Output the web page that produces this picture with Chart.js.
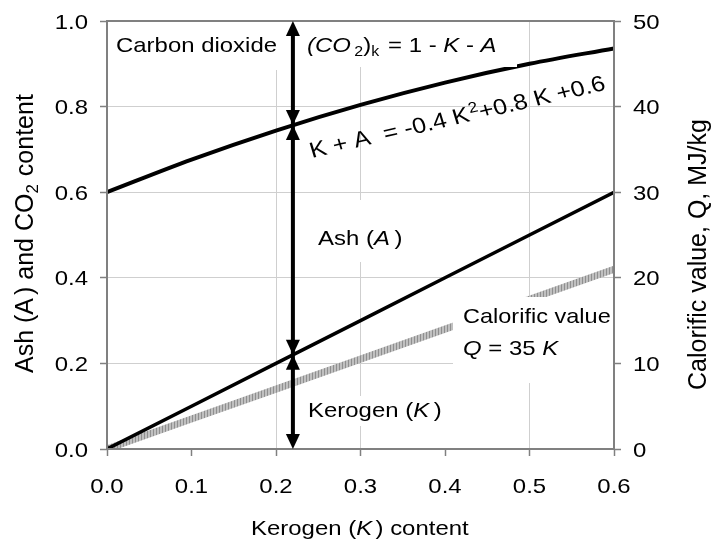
<!DOCTYPE html>
<html>
<head>
<meta charset="utf-8">
<script src="https://cdn.jsdelivr.net/npm/chart.js@4.4.1/dist/chart.umd.min.js"></script>
<style>
  body { margin: 0; background: #fff; }
  canvas { display: block; }
</style>
</head>
<body>
<canvas id="chart" width="711" height="540"></canvas>
<script>
// values
const kerogen = [0, 0.1, 0.2, 0.3, 0.4, 0.5, 0.6];
const kerogenPlusAsh = [0.600, 0.676, 0.744, 0.804, 0.856, 0.900, 0.936];
const kerogenLine = [0, 0.1, 0.2, 0.3, 0.4, 0.5, 0.6];
const calorificValue = [0, 3.5, 7.0, 10.5, 14.0, 17.5, 21.0];

// the double arrow at K = 0.22 and the levels it splits
const arrowK = 0.22;
const arrowLevels = [0, 0.22, 0.757, 1.0];

const xTickLabels = ['0.0', '0.1', '0.2', '0.3', '0.4', '0.5', '0.6'];
const leftTickLabels = ['0.0', '0.2', '0.4', '0.6', '0.8', '1.0'];
const rightTickLabels = ['0', '10', '20', '30', '40', '50'];

const FONT = '"Liberation Sans", Arial, sans-serif';
const SX = 1.14; // the figure's text is a bit wider than plain Arial

// hatched grey for the calorific line
function hatch() {
  const c = document.createElement('canvas');
  c.width = 3; c.height = 8;
  const g = c.getContext('2d');
  g.fillStyle = '#c0c0c0';
  g.fillRect(0, 0, 3, 8);
  g.fillStyle = '#8f8f8f';
  g.fillRect(0, 0, 1, 8);
  return g.createPattern(c, 'repeat');
}

function pts(xs, ys) {
  return xs.map((x, i) => ({ x: x, y: ys[i] }));
}

// draw text made of parts (italic, sub, sup)
function rich(ctx, x, y, parts, size, angle, sx) {
  ctx.save();
  ctx.translate(x, y);
  ctx.scale(sx, 1);
  ctx.rotate(angle || 0);
  ctx.fillStyle = '#000';
  ctx.textAlign = 'left';
  ctx.textBaseline = 'alphabetic';
  let cx = 0;
  parts.forEach(p => {
    const small = p.sub || p.sup;
    const fs = small ? Math.round(size * 0.66) : size;
    ctx.font = (p.it ? 'italic ' : '') + fs + 'px ' + FONT;
    const dy = p.sub ? size * 0.2 : (p.sup ? -size * 0.36 : 0);
    ctx.fillText(p.t, cx, dy);
    cx += ctx.measureText(p.t).width + (p.gap || 0);
  });
  ctx.restore();
}

function tickText(ctx, x, y, text, align) {
  ctx.save();
  ctx.translate(x, y);
  ctx.scale(SX, 1);
  ctx.font = '21px ' + FONT;
  ctx.fillStyle = '#000';
  ctx.textAlign = align;
  ctx.textBaseline = 'alphabetic';
  ctx.fillText(text, 0, 0);
  ctx.restore();
}

function whiteBox(ctx, x1, y1, x2, y2) {
  ctx.fillStyle = '#fff';
  ctx.fillRect(x1, y1, x2 - x1, y2 - y1);
}

function arrowHead(ctx, x, tipY, dir) {
  // dir -1 points up, +1 points down
  ctx.beginPath();
  ctx.moveTo(x, tipY);
  ctx.lineTo(x - 7, tipY - dir * 15);
  ctx.lineTo(x + 7, tipY - dir * 15);
  ctx.closePath();
  ctx.fill();
}

const decorations = {
  id: 'decorations',
  afterDatasetsDraw(chart) {
    const ctx = chart.ctx;
    const a = chart.chartArea;
    const xs = chart.scales.x, ys = chart.scales.y, ys2 = chart.scales.y1;

    // label boxes hide the grid and lines behind them
    whiteBox(ctx, 110, a.top + 1, 282, 70);
    whiteBox(ctx, 300, a.top + 1, 517, 67);
    whiteBox(ctx, 310, 200, 412, 262);
    whiteBox(ctx, 300, 396, 450, 426);
    whiteBox(ctx, 453, 297, a.right - 1, 383);

    rich(ctx, 116, 52, [{ t: 'Carbon dioxide' }], 21, 0, SX);
    rich(ctx, 307, 52, [
      { t: '(CO', it: true, gap: 3 }, { t: '2', sub: true }, { t: ')' }, { t: 'k', sub: true, gap: 2 },
      { t: ' = 1 - ' }, { t: 'K', it: true }, { t: ' - ' }, { t: 'A', it: true }
    ], 21, 0, SX);
    rich(ctx, 312, 158, [
      { t: 'K + A  = -0.4 K', gap: 1 }, { t: '2', sup: true }, { t: '+0.8 K +0.6' }
    ], 22, -Math.atan(0.232 * SX), SX);
    rich(ctx, 318, 245, [{ t: 'Ash (' }, { t: 'A', it: true, gap: 4 }, { t: ')' }], 21, 0, SX);
    rich(ctx, 308, 417, [{ t: 'Kerogen (' }, { t: 'K', it: true, gap: 4 }, { t: ')' }], 21, 0, SX);
    rich(ctx, 463, 323, [{ t: 'Calorific value' }], 21, 0, 1.12);
    rich(ctx, 463, 355, [{ t: 'Q', it: true }, { t: ' = 35 ' }, { t: 'K', it: true }], 21, 0, SX);

    // axis titles
    rich(ctx, 251, 535, [{ t: 'Kerogen (' }, { t: 'K', it: true, gap: 3 }, { t: ') content' }], 21, 0, SX);
    rich(ctx, 33, 373, [
      { t: 'Ash (A', gap: 3 }, { t: ') and CO' }, { t: '2', sub: true, gap: 1 }, { t: ' content' }
    ], 25, -Math.PI / 2, 1);
    rich(ctx, 706, 390, [{ t: 'Calorific value, Q, MJ/kg' }], 25, -Math.PI / 2, 1);

    // tick labels through the scales
    xTickLabels.forEach(l => tickText(ctx, xs.getPixelForValue(parseFloat(l)), 493, l, 'center'));
    leftTickLabels.forEach(l => tickText(ctx, 88, ys.getPixelForValue(parseFloat(l)) + 7.5, l, 'right'));
    rightTickLabels.forEach(l => tickText(ctx, 633, ys2.getPixelForValue(parseFloat(l)) + 7.5, l, 'left'));

    // plot frame
    ctx.strokeStyle = '#808080';
    ctx.lineWidth = 2;
    ctx.strokeRect(a.left, a.top, a.right - a.left, a.bottom - a.top);

    // double-headed arrows
    const ax = xs.getPixelForValue(arrowK);
    ctx.fillStyle = '#000';
    ctx.strokeStyle = '#000';
    ctx.lineWidth = 4;
    ctx.beginPath();
    ctx.moveTo(ax, ys.getPixelForValue(arrowLevels[0]) - 10);
    ctx.lineTo(ax, ys.getPixelForValue(arrowLevels[arrowLevels.length - 1]) + 10);
    ctx.stroke();
    for (let i = 0; i < arrowLevels.length - 1; i++) {
      arrowHead(ctx, ax, ys.getPixelForValue(arrowLevels[i]), 1);
      arrowHead(ctx, ax, ys.getPixelForValue(arrowLevels[i + 1]), -1);
    }
  }
};

const near = (v, list) => list.some(t => Math.abs(v - t) < 1e-6);

new Chart(document.getElementById('chart'), {
  type: 'scatter',
  data: {
    datasets: [
      {
        label: 'K + A',
        data: pts(kerogen, kerogenPlusAsh),
        yAxisID: 'y',
        showLine: true,
        borderColor: '#000',
        borderWidth: 4,
        pointRadius: 0,
        cubicInterpolationMode: 'monotone'
      },
      {
        label: 'Kerogen',
        data: pts(kerogen, kerogenLine),
        yAxisID: 'y',
        showLine: true,
        borderColor: '#000',
        borderWidth: 3.5,
        pointRadius: 0
      },
      {
        label: 'Calorific value',
        data: pts(kerogen, calorificValue),
        yAxisID: 'y1',
        showLine: true,
        borderColor: hatch(),
        borderWidth: 7,
        borderCapStyle: 'butt',
        pointRadius: 0
      }
    ]
  },
  options: {
    responsive: false,
    animation: false,
    events: [],
    layout: { padding: { top: 21, left: 0, right: 0, bottom: 0 } },
    plugins: { legend: { display: false }, tooltip: { enabled: false } },
    scales: {
      x: {
        type: 'linear',
        position: 'bottom',
        min: 0,
        max: 0.6,
        ticks: { display: false, stepSize: 0.1 },
        grid: {
          color: c => near(c.tick.value, [0.2, 0.3, 0.5]) ? '#cfcfcf' : 'rgba(0,0,0,0)',
          tickColor: '#808080',
          tickLength: 7,
          tickWidth: 1.5
        },
        border: { display: false },
        afterFit: s => { s.height = 91; }
      },
      y: {
        type: 'linear',
        position: 'left',
        min: 0,
        max: 1,
        ticks: { display: false, stepSize: 0.2 },
        grid: {
          color: c => (c.tick.value > 0.01 && c.tick.value < 0.99) ? '#cfcfcf' : 'rgba(0,0,0,0)',
          tickColor: '#808080',
          tickLength: 7,
          tickWidth: 1.5
        },
        border: { display: false },
        afterFit: s => { s.width = 107; }
      },
      y1: {
        type: 'linear',
        position: 'right',
        min: 0,
        max: 50,
        ticks: { display: false, stepSize: 10 },
        grid: {
          drawOnChartArea: false,
          tickColor: '#808080',
          tickLength: 7,
          tickWidth: 1.5
        },
        border: { display: false },
        afterFit: s => { s.width = 97; }
      }
    }
  },
  plugins: [decorations]
});
</script>
</body>
</html>
